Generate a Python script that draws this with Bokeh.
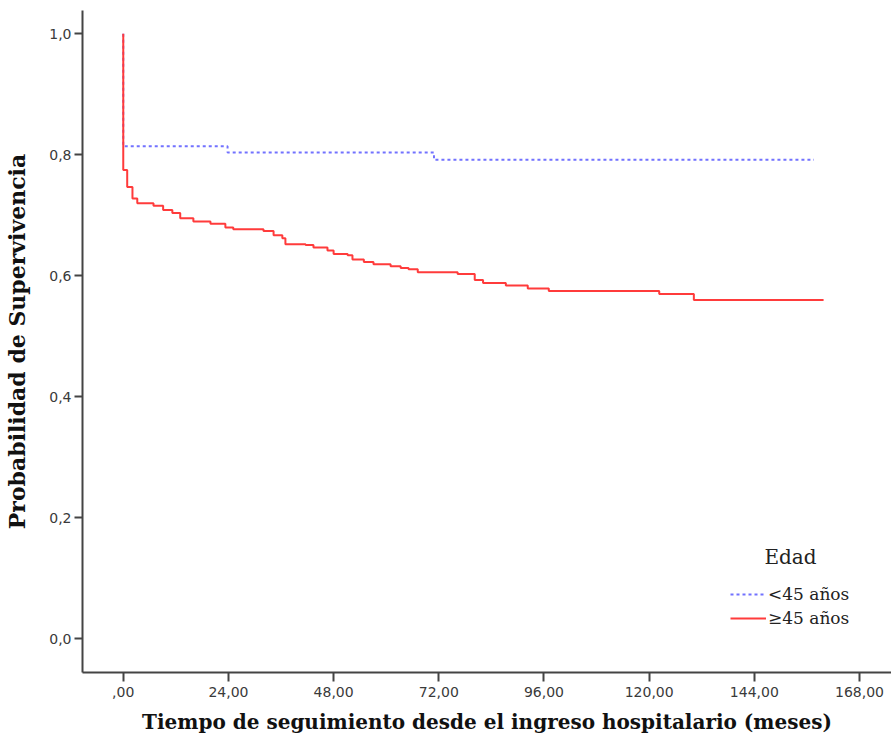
from bokeh.plotting import figure
from bokeh.models import Range1d, FixedTicker, Legend, LegendItem, Label
from bokeh.embed import file_html
from bokeh.resources import INLINE

# Data
young_time = [0, 0, 23.8, 70.9, 157.6]
young_surv = [1.0, 0.814, 0.804, 0.792, 0.792]

old_time = [0, 0, 0.9, 2.1, 3.2, 6.9, 9.1, 11.2, 13.0, 16.0, 19.9, 23.3, 25.1, 32.0,
            34.3, 36.3, 37.0, 41.6, 43.4, 46.6, 48.0, 51.2, 52.3, 54.9, 57.1, 61.0,
            63.3, 65.1, 67.2, 76.3, 80.2, 82.1, 87.3, 92.3, 97.1, 122.3, 130.2, 159.8]
old_surv = [1.0, 0.775, 0.747, 0.728, 0.720, 0.716, 0.709, 0.704, 0.695, 0.690, 0.686,
            0.680, 0.677, 0.674, 0.667, 0.662, 0.652, 0.651, 0.647, 0.642, 0.636, 0.634,
            0.627, 0.623, 0.619, 0.616, 0.613, 0.611, 0.606, 0.603, 0.593, 0.588, 0.584,
            0.579, 0.575, 0.570, 0.560, 0.560]

x_ticks = [0, 24, 48, 72, 96, 120, 144, 168]
x_tick_labels = [",00", "24,00", "48,00", "72,00", "96,00", "120,00", "144,00", "168,00"]
y_ticks = [0.0, 0.2, 0.4, 0.6, 0.8, 1.0]
y_tick_labels = ["0,0", "0,2", "0,4", "0,6", "0,8", "1,0"]

series_labels = ["<45 años", "\u226545 años"]
legend_title = "Edad"
x_title = "Tiempo de seguimiento desde el ingreso hospitalario (meses)"
y_title = "Probabilidad de Supervivencia"

p = figure(width=891, height=744, output_backend="svg", toolbar_location=None,
           x_range=Range1d(-9.3, 175.3), y_range=Range1d(-0.0557, 1.0386),
           min_border_left=82, min_border_right=0, min_border_top=10, min_border_bottom=72)
p.outline_line_color = None
p.grid.visible = False
p.background_fill_color = "white"
p.border_fill_color = "white"

blue = p.step(young_time, young_surv, mode="after", line_color="#7272ff",
              line_width=2, line_dash="3 3")
red = p.step(old_time, old_surv, mode="after", line_color="#ff3b3b", line_width=2)

for ax in (p.xaxis[0], p.yaxis[0]):
    ax.axis_line_color = "#444444"
    ax.axis_line_width = 2
    ax.major_tick_line_color = "#444444"
    ax.major_tick_line_width = 2
    ax.minor_tick_line_color = None
    ax.major_tick_in = 0
    ax.major_label_text_font = "DejaVu Sans"
    ax.major_label_text_font_size = "14px"
    ax.major_label_text_color = "#3a3a3a"
    ax.axis_label_text_font = "DejaVu Serif"
    ax.axis_label_text_font_style = "bold"
    ax.axis_label_text_color = "#111111"

p.xaxis.axis_label_text_font_size = "20px"
p.yaxis.axis_label_text_font_size = "22px"
p.xaxis.ticker = FixedTicker(ticks=x_ticks)
p.xaxis.major_label_overrides = {t: l for t, l in zip(x_ticks, x_tick_labels)}
p.yaxis.ticker = FixedTicker(ticks=y_ticks)
p.yaxis.major_label_overrides = {t: l for t, l in zip(y_ticks, y_tick_labels)}
p.xaxis.major_tick_out = 9
p.yaxis.major_tick_out = 8
p.xaxis.major_label_standoff = 5
p.yaxis.major_label_standoff = 3
p.xaxis.axis_label = x_title
p.yaxis.axis_label = y_title
p.xaxis.axis_label_standoff = 10
p.yaxis.axis_label_standoff = 16

legend = Legend(items=[LegendItem(label=series_labels[0], renderers=[blue]),
                       LegendItem(label=series_labels[1], renderers=[red])],
                location=(648, 44), background_fill_alpha=0, border_line_color=None,
                label_text_font="DejaVu Serif", label_text_font_size="17px",
                label_text_color="#222222", glyph_width=36, label_standoff=2,
                spacing=4, padding=4, margin=0)
p.add_layout(legend)

p.add_layout(Label(x=708, y=116, x_units="screen", y_units="screen", text=legend_title,
                   text_font="DejaVu Serif", text_font_size="20px", text_color="#222222",
                   text_align="center", text_baseline="middle"))

open("out.html", "w").write(file_html(p, INLINE))
